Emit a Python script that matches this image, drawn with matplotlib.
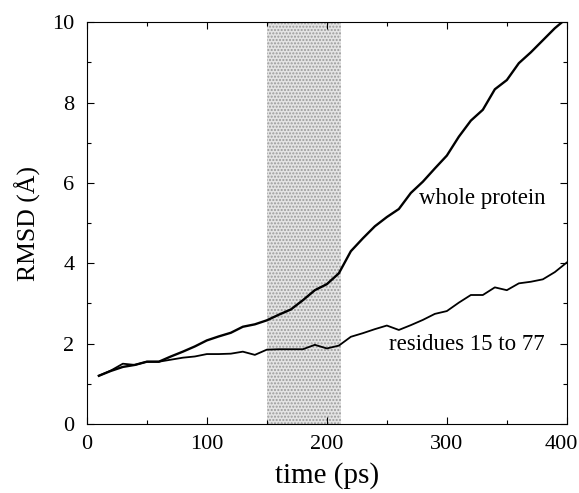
import matplotlib
matplotlib.use("Agg")
import matplotlib.pyplot as plt
from matplotlib.ticker import MultipleLocator

plt.rcParams['font.family'] = ['Liberation Serif', 'DejaVu Serif']

# time points (ps)
time = list(range(10, 401, 10))

# RMSD of the whole protein (A)
whole = [1.20, 1.32, 1.42, 1.47, 1.55, 1.55, 1.68, 1.80, 1.93, 2.08,
         2.18, 2.27, 2.42, 2.48, 2.58, 2.72, 2.85, 3.08, 3.33, 3.48,
         3.75, 4.30, 4.62, 4.92, 5.15, 5.35, 5.75, 6.03, 6.36, 6.68,
         7.15, 7.55, 7.82, 8.33, 8.56, 8.98, 9.25, 9.55, 9.85, 10.10]

# RMSD of residues 15 to 77 (A)
core = [1.20, 1.33, 1.50, 1.47, 1.55, 1.55, 1.60, 1.65, 1.68, 1.74,
        1.74, 1.75, 1.80, 1.72, 1.85, 1.86, 1.86, 1.86, 1.97, 1.88,
        1.95, 2.17, 2.26, 2.36, 2.45, 2.34, 2.46, 2.59, 2.74, 2.81,
        3.02, 3.21, 3.21, 3.40, 3.33, 3.50, 3.54, 3.60, 3.78, 4.02]

# x ticks
xticks = [0, 100, 200, 300, 400]
xticklabels = ['0', '100', '200', '300', '400']

# shaded time window
window = (150, 212)

fig = plt.figure(figsize=(5.79, 4.93), dpi=100)
ax = fig.add_axes([0.150, 0.140, 0.829, 0.815])

ax.axvspan(window[0], window[1], facecolor='#e4e4e4', edgecolor='#9a9a9a',
           hatch='.....', linewidth=0, zorder=0)

ax.plot(time, whole, color='black', lw=1.7, zorder=3)
ax.plot(time, core, color='black', lw=1.3, zorder=3)

ax.text(277, 5.62, 'whole protein', fontsize=16.5, va='center', ha='left')
ax.text(252, 1.97, 'residues 15 to 77', fontsize=16.5, va='center', ha='left')

ax.set_xlim(0, 400)
ax.set_ylim(0, 10)
# last label drawn by hand so it stays inside the figure
ax.set_xticks(xticks, xticklabels[:-1] + [''])
ax.annotate(xticklabels[-1], xy=(xticks[-1], 0), xycoords='data',
            xytext=(-4, -8), textcoords='offset points',
            ha='center', va='top', fontsize=16)
ax.xaxis.set_minor_locator(MultipleLocator(50))
ax.yaxis.set_major_locator(MultipleLocator(2))
ax.yaxis.set_minor_locator(MultipleLocator(1))
ax.tick_params(which='both', direction='in', top=True, right=True,
               labelsize=16, width=0.8)
ax.tick_params(which='major', length=5)
ax.tick_params(which='minor', length=3)
ax.tick_params(axis='x', pad=8)
ax.tick_params(axis='y', pad=9)

ax.set_xlabel('time (ps)', fontsize=21, labelpad=6)
ax.set_ylabel('RMSD (Å)', fontsize=18.5, labelpad=8)

for s in ax.spines.values():
    s.set_linewidth(0.8)

fig.savefig('out.png', dpi=100)
